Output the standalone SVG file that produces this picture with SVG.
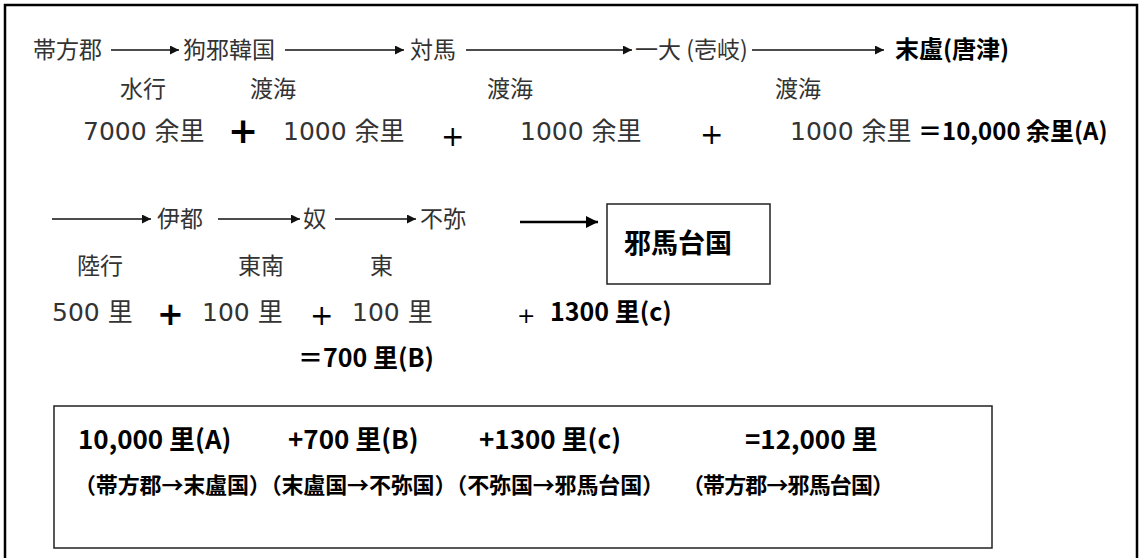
<svg xmlns="http://www.w3.org/2000/svg" width="1140" height="558" viewBox="0 0 1140 558">
<defs>
<marker id="ah" viewBox="0 0 10 10" refX="10" refY="5" markerWidth="11" markerHeight="9" markerUnits="userSpaceOnUse" orient="auto"><path d="M0,0 L10,5 L0,10 Z" fill="#111"/></marker>
<marker id="ahb" viewBox="0 0 10 10" refX="10" refY="5" markerWidth="13" markerHeight="12" markerUnits="userSpaceOnUse" orient="auto"><path d="M0,0 L10,5 L0,10 Z" fill="#000"/></marker>
<style>
text{font-family:"DejaVu Sans","Noto Sans CJK JP",sans-serif}
.c{font-family:"Noto Sans CJK JP","Noto Sans",sans-serif}
.g{fill:#333;font-size:25px}
.r{fill:#333;font-size:23px}
.s{fill:#333;font-size:23px}
.k{fill:#000;font-weight:bold;font-family:"Noto Sans CJK JP","Noto Sans",sans-serif}
.l{stroke:#111;stroke-width:1.5;fill:none}
.lb{stroke:#000;stroke-width:2.6;fill:none}
.box{fill:#fff;stroke:#222;stroke-width:1.5}
</style>
</defs>
<rect width="1140" height="558" fill="#fff"/>
<path d="M5,558 V5 H1137 V558" fill="none" stroke="#000" stroke-width="2.5"/>

<g id="connectors">
<line class="l" x1="111" y1="50" x2="179" y2="50" marker-end="url(#ah)"/>
<line class="l" x1="285" y1="50" x2="404" y2="50" marker-end="url(#ah)"/>
<line class="l" x1="466" y1="50" x2="632" y2="50" marker-end="url(#ah)"/>
<line class="l" x1="752" y1="50" x2="884" y2="50" marker-end="url(#ah)"/>
<line class="l" x1="52" y1="219" x2="151" y2="219" marker-end="url(#ah)"/>
<line class="l" x1="218" y1="219" x2="300" y2="219" marker-end="url(#ah)"/>
<line class="l" x1="335" y1="219" x2="416" y2="219" marker-end="url(#ah)"/>
<line class="lb" x1="520" y1="222" x2="598" y2="222" marker-end="url(#ahb)"/>
</g>

<g id="row1">
<text class="r c" x="33" y="58">帯方郡</text>
<text class="r c" x="183" y="58">狗邪韓国</text>
<text class="r c" x="410" y="58">対馬</text>
<text class="r c" x="635" y="58">一大 (壱岐)</text>
<text class="k" x="895" y="58" font-size="24">末盧(唐津)</text>
</g>
<g id="row2">
<text class="s c" x="120" y="97">水行</text>
<text class="s c" x="250" y="97">渡海</text>
<text class="s c" x="487" y="97">渡海</text>
<text class="s c" x="775" y="97">渡海</text>
</g>
<g id="row3">
<text class="g" x="83" y="140">7000 余里</text>
<text x="228" y="143" font-size="36" font-weight="bold" fill="#000">+</text>
<text class="g" x="283" y="140">1000 余里</text>
<text x="441" y="146" font-size="28" fill="#000">+</text>
<text class="g" x="520" y="140">1000 余里</text>
<text x="700" y="144" font-size="28" fill="#000">+</text>
<text class="g" x="790" y="140">1000 余里</text>
<text class="k" x="918" y="140" font-size="24">＝10,000 余里(A)</text>
</g>

<g id="row4">
<text class="s c" x="157" y="227">伊都</text>
<text class="s c" x="303" y="227">奴</text>
<text class="s c" x="420" y="227">不弥</text>
</g>
<g id="yamatai">
<rect class="box" x="607" y="204" width="163" height="80"/>
<text class="k" x="624" y="253" font-size="27">邪馬台国</text>
</g>
<g id="row5">
<text class="s c" x="77" y="274">陸行</text>
<text class="s c" x="238" y="274">東南</text>
<text class="s c" x="370" y="274">東</text>
</g>
<g id="row6">
<text class="g" x="52" y="321">500 里</text>
<text x="157" y="325" font-size="32" font-weight="bold" fill="#000">+</text>
<text class="g" x="202" y="321">100 里</text>
<text x="310" y="325" font-size="28" fill="#000">+</text>
<text class="g" x="352" y="321">100 里</text>
<text x="517" y="323" font-size="22" fill="#000">+</text>
<text class="k" x="550" y="321" font-size="25">1300 里(c)</text>
</g>
<g id="row7">
<text class="k" x="298" y="367" font-size="25">＝700 里(B)</text>
</g>

<g id="summary">
<rect x="54" y="406" width="938" height="142" fill="none" stroke="#222" stroke-width="1.5"/>
<text class="k" x="78" y="449" font-size="26">10,000 里(A)</text>
<text class="k" x="288" y="449" font-size="26">+700 里(B)</text>
<text class="k" x="479" y="449" font-size="26">+1300 里(c)</text>
<text class="k" x="745" y="449" font-size="26">=12,000 里</text>
<text class="k" x="74" y="493" font-size="22" textLength="590" lengthAdjust="spacing">（帯方郡→末盧国）（末盧国→不弥国）（不弥国→邪馬台国）</text>
<text class="k" x="682" y="493" font-size="22" textLength="212" lengthAdjust="spacing">（帯方郡→邪馬台国）</text>
</g>
</svg>
